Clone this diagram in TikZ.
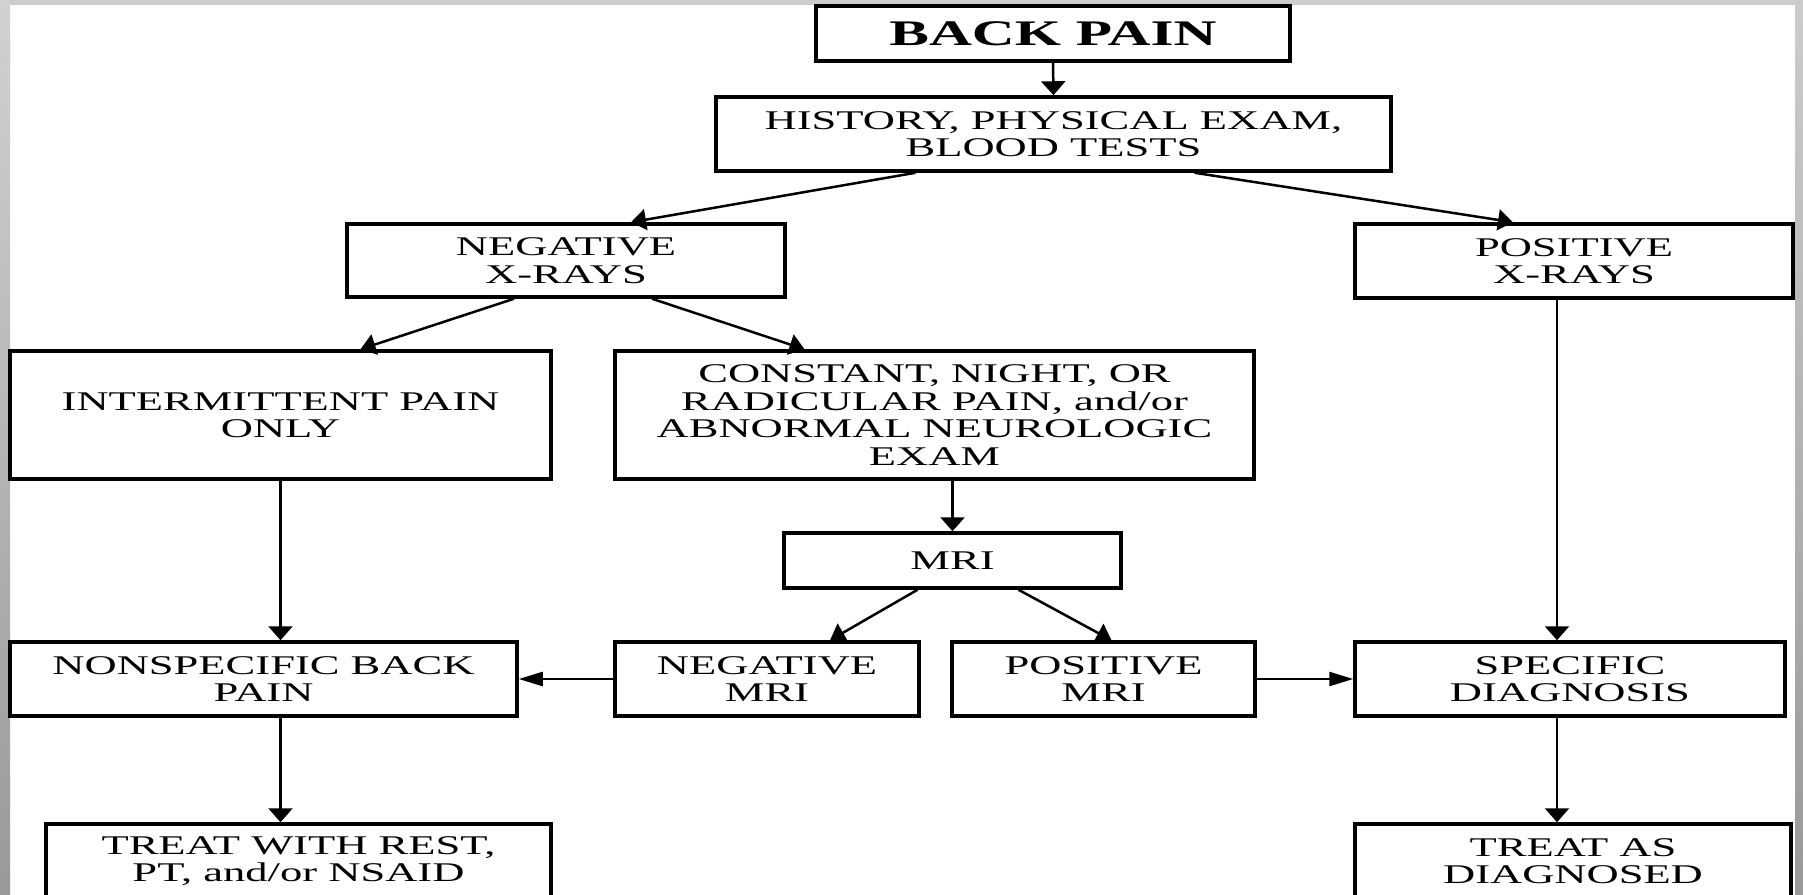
\documentclass[tikz,border=0pt]{standalone}
\usepackage{fontspec}
\setmainfont{Liberation Serif}[FakeStretch=1.65]
\usetikzlibrary{arrows.meta}

\begin{document}
\begin{tikzpicture}[x=1pt, y=-1pt,
    box/.style={draw, line width=3.5pt, inner sep=0pt, align=center,
      font=\fontsize{27}{27.5}\selectfont},
    link/.style={line width=2.5pt, -{Triangle[width=24pt,length=14pt]}},
    hlink/.style={line width=2.5pt, -{Triangle[width=14pt,length=24pt]}},
    slant/.style={line width=2.5pt, -{Triangle[width=21pt,length=15pt]}}
  ]
  \useasboundingbox (0,0) rectangle (1803,894);

  % Slide frame
  \fill[black!20] (0,0) rectangle (1803,5);
  \shade[top color=black!18, bottom color=black!40] (0,0) rectangle (10,894);
  \shade[top color=black!20, bottom color=black!40] (1795,0) rectangle (1803,894);

  % Column of the positive branch
  \coordinate (rcol) at (1557,0);

  % Top of the chart
  \node[box, minimum width=474pt, minimum height=55pt,
    font=\fontsize{36}{36}\selectfont\bfseries] (back) at (1053,33.5) {BACK PAIN};
  \node[box, minimum width=675pt, minimum height=74pt] (hist) at (1053.5,134)
    {HISTORY, PHYSICAL EXAM,\\BLOOD TESTS};

  % X-rays
  \node[box, minimum width=438pt, minimum height=73pt] (negx) at (566,260.5)
    {NEGATIVE\\X-RAYS};
  \node[box, minimum width=438pt, minimum height=74pt] (posx) at (1574,261)
    {POSITIVE\\X-RAYS};

  % Kind of pain
  \node[box, minimum width=541pt, minimum height=128pt] (inter) at (280.5,415)
    {INTERMITTENT PAIN\\ONLY};
  \node[box, minimum width=639pt, minimum height=128pt] (const) at (934.5,415)
    {CONSTANT, NIGHT, OR\\RADICULAR PAIN, and/or\\ABNORMAL NEUROLOGIC\\EXAM};
  \node[box, minimum width=337pt, minimum height=55pt] (mri) at (952.5,560.5) {MRI};

  % Diagnosis row
  \node[box, minimum width=507pt, minimum height=74pt] (nonspec) at (263.5,679)
    {NONSPECIFIC BACK\\PAIN};
  \node[box, minimum width=304pt, minimum height=74pt] (negmri) at (767,679)
    {NEGATIVE\\MRI};
  \node[box, minimum width=303pt, minimum height=74pt] (posmri) at (1103.5,679)
    {POSITIVE\\MRI};
  \node[box, minimum width=430pt, minimum height=74pt] (specific) at (1570,679)
    {SPECIFIC\\DIAGNOSIS};

  % Treatment
  \node[box, minimum width=505pt, minimum height=74pt] (treatrest) at (298.5,861)
    {TREAT WITH REST,\\PT, and/or NSAID};
  \node[box, minimum width=436pt, minimum height=74pt] (treatdiag) at (1573,861)
    {TREAT AS\\DIAGNOSED};

  % Connectors
  \draw[link] (back.south) -- (hist.north);
  \draw[slant] ([xshift=-138pt]hist.south) -- ([xshift=65pt]negx.north);
  \draw[slant] ([xshift=141pt]hist.south) -- ([xshift=-61pt]posx.north);
  \draw[slant] ([xshift=-52pt]negx.south) -- ([xshift=80pt]inter.north);
  \draw[slant] ([xshift=86pt]negx.south) -- ([xshift=-130pt]const.north);
  \draw[link] (const.south -| mri.north) -- (mri.north);
  \draw[slant] ([xshift=-35pt]mri.south) -- ([xshift=63pt]negmri.north);
  \draw[slant] ([xshift=66pt]mri.south) -- ([xshift=8pt]posmri.north);
  \draw[link] (inter.south) -- (inter.south |- nonspec.north);
  \draw[hlink] (negmri.west) -- (nonspec.east);
  \draw[hlink] (posmri.east) -- (specific.west);
  \draw[link] (nonspec.south -| inter.south) -- (treatrest.north -| inter.south);
  \draw[link] (posx.south -| rcol) -- (specific.north -| rcol);
  \draw[link] (specific.south -| rcol) -- (treatdiag.north -| rcol);

\end{tikzpicture}
\end{document}
